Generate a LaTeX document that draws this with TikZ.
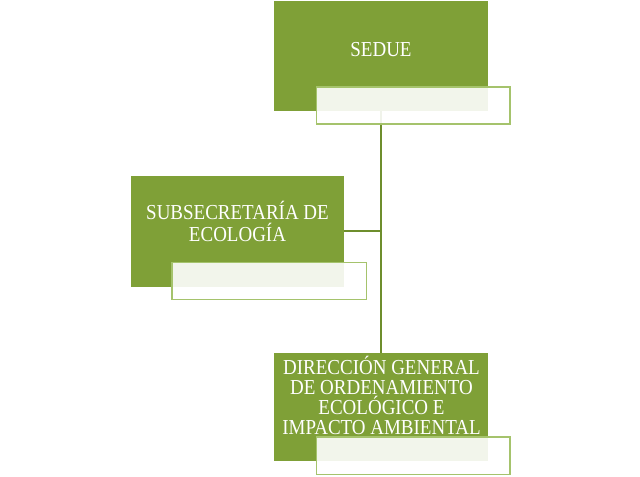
\documentclass[tikz,border=0pt]{standalone}
\usepackage{fontspec}
\setmainfont{Liberation Serif}
\newfontfamily\boxfont[FakeStretch=0.89]{Liberation Serif}
\definecolor{boxgreen}{HTML}{7FA037}
\definecolor{edgegreen}{HTML}{A5C36C}
\definecolor{linegreen}{HTML}{6E8E2D}
\tikzset{
  greenbox/.style={rectangle, fill=boxgreen, inner sep=0pt, outer sep=0pt},
  notebox/.style={rectangle, draw=edgegreen, line width=1.2pt, fill=white, fill opacity=0.9, inner sep=0pt, outer sep=0pt},
  boxtext/.style={text=white, align=center, inner sep=0pt, anchor=base, font=\boxfont\fontsize{16pt}{16.3pt}\selectfont},
  connector/.style={draw=linegreen, line width=1.4pt}
}
\begin{document}
\begin{tikzpicture}[x=0.75pt,y=-0.75pt]
\useasboundingbox (0,0) rectangle (640,476);
% green boxes
\node[greenbox, minimum width=160.5pt, minimum height=82.3pt] (g1) at (381,55.8) {};
\node[greenbox, minimum width=160pt, minimum height=83pt] (g2) at (237.3,231.3) {};
\node[greenbox, minimum width=160.5pt, minimum height=81pt] (g3) at (381,406.7) {};
% connectors
\coordinate (j) at (g1.south |- g2.east);
\draw[connector] (g1.south) -- (g3.north);
\draw[connector] (g2.east) -- (j);
% texts (anchor=base sits on the last line)
\node[boxtext] (t1) at (381,56) {SEDUE};
\node[boxtext] (t2) at (237.5,241.7) {SUBSECRETARÍA DE\\ECOLOGÍA};
\node[boxtext, font=\boxfont\fontsize{16pt}{15pt}\selectfont] (t3) at (381.5,434.5) {DIRECCIÓN GENERAL\\DE ORDENAMIENTO\\ECOLÓGICO E\\IMPACTO AMBIENTAL};
% note boxes
\node[notebox, minimum width=145pt, minimum height=27.75pt] (w1) at (413.3,105.5) {};
\node[notebox, minimum width=146pt, minimum height=27.5pt] (w2) at (269.3,281) {};
\node[notebox, minimum width=145pt, minimum height=28pt] (w3) at (413.3,455.7) {};
\end{tikzpicture}
\end{document}
